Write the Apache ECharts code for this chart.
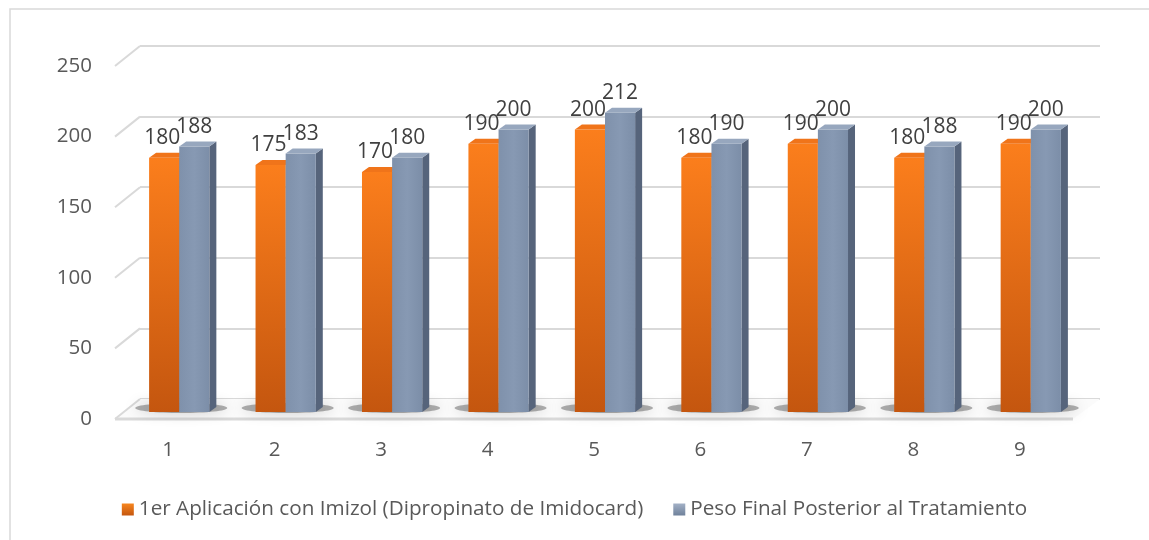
<!DOCTYPE html>
<html><head><meta charset="utf-8">
<script src="https://cdn.jsdelivr.net/npm/echarts@6/dist/echarts.min.js"></script>
<style>html,body{margin:0;padding:0;background:#fff}#c{width:1149px;height:540px}</style>
</head><body><div id="c"></div>
<script>
const categories = ['1','2','3','4','5','6','7','8','9'];
const seriesNames = ['1er Aplicación con Imizol (Dipropinato de Imidocard)', 'Peso Final Posterior al Tratamiento'];
const primeraAplicacion = [180, 175, 170, 190, 200, 180, 190, 180, 190];
const pesoFinal = [188, 183, 180, 200, 212, 190, 200, 188, 200];
const yTicks = [0, 50, 100, 150, 200, 250];

const FONT = '"Open Sans", "Noto Sans", sans-serif';
const TXT = '#595959';
const GRID = '#d9d9d9';
const DX = 25, DY = 20; // wall depth offset

const orangeFront = new echarts.graphic.LinearGradient(0,0,0,1,[{offset:0,color:'#fb7e1c'},{offset:1,color:'#c4560f'}]);
const blueFront = new echarts.graphic.LinearGradient(0,0,1,0,[{offset:0,color:'#7f91ab'},{offset:0.5,color:'#8799b3'},{offset:1,color:'#7c8ea8'}]);
const styles = [
  {front: orangeFront, side: '#a84a0d', top: '#f0741a', legend: new echarts.graphic.LinearGradient(0,0,0,1,[{offset:0,color:'#f7861f'},{offset:1,color:'#c4560f'}])},
  {front: blueFront, side: '#56647b', top: '#97a7be', legend: new echarts.graphic.LinearGradient(0,0,0,1,[{offset:0,color:'#a3b1c6'},{offset:1,color:'#6f819b'}])}
];

function barRenderer(si) {
  return function (params, api) {
    const cat = api.value(0), v = api.value(1);
    const base = api.coord([cat, 0]);
    const top = api.coord([cat, v]);
    const band = api.size([1, 0])[0];
    const bw = band * 0.283;
    const x0 = si === 0 ? base[0] - bw : base[0];
    const x1 = x0 + bw;
    const d = 7, h = 5;
    const st = styles[si];
    return {
      type: 'group',
      children: [
        {type: 'polygon', shape: {points: [[x1, top[1]], [x1 + d, top[1] - h], [x1 + d, base[1] - h], [x1, base[1]]]}, style: {fill: st.side}},
        {type: 'rect', shape: {x: x0, y: top[1], width: bw, height: base[1] - top[1]}, style: {fill: st.front}},
        {type: 'polygon', shape: {points: [[x0, top[1]], [x0 + d, top[1] - h], [x1 + d, top[1] - h], [x1, top[1]]]}, style: {fill: st.top}},
        {type: 'text', style: {text: String(v), x: (x0 + x1) / 2 - (si === 0 ? 2 : 0), y: top[1] - 9, align: 'center', verticalAlign: 'bottom', font: '21px ' + FONT, fill: '#404040'}}
      ]
    };
  };
}

const chart = echarts.init(document.getElementById('c'), null, {renderer: 'canvas'});
chart.setOption({
  animation: false,
  backgroundColor: '#fff',
  textStyle: {fontFamily: FONT},
  graphic: [{type: 'rect', shape: {x: 10, y: 9, width: 1160, height: 560}, style: {fill: 'none', stroke: GRID, lineWidth: 1.5}, silent: true}],
  legend: {
    data: seriesNames, bottom: 15, left: 'center', itemWidth: 12, itemHeight: 12, itemGap: 30,
    icon: 'rect', textStyle: {fontSize: 20.7, color: TXT, fontFamily: FONT}
  },
  grid: [
    {left: 115, width: 958, top: 66, height: 353, outerBoundsMode: 'none'},
    {left: 126, width: 958, top: 59, height: 353, outerBoundsMode: 'none'},
    {left: 140, width: 960, top: 46, height: 353, outerBoundsMode: 'none'}
  ],
  xAxis: [
    {gridIndex: 0, type: 'category', data: categories, axisLine: {show: false}, axisTick: {show: false}, axisLabel: {fontSize: 20.5, color: TXT, margin: 21}},
    {gridIndex: 1, type: 'category', data: categories, show: false},
    {gridIndex: 2, type: 'category', data: categories, show: false}
  ],
  yAxis: [
    {gridIndex: 0, type: 'value', min: 0, max: 250, interval: 50, axisLine: {show: false}, axisTick: {show: false}, splitLine: {show: false}, axisLabel: {fontSize: 20.5, color: TXT, margin: 23}},
    {gridIndex: 1, type: 'value', min: 0, max: 250, interval: 50, show: false},
    {gridIndex: 2, type: 'value', min: 0, max: 250, interval: 50, axisLine: {show: false}, axisTick: {show: false}, axisLabel: {show: false}, splitLine: {show: true, lineStyle: {color: GRID, width: 2}}}
  ],
  series: [
    {
      type: 'custom', name: 'walls', xAxisIndex: 0, yAxisIndex: 0, silent: true, z: 1,
      data: yTicks.map(v => [0, v]),
      renderItem: function (params, api) {
        const v = api.value(1);
        const p = api.coord([0, v]);
        const cs = params.coordSys;
        const x = cs.x;
        const children = [{type: 'line', shape: {x1: x, y1: p[1], x2: x + DX, y2: p[1] - DY}, style: {stroke: GRID, lineWidth: 2}}];
        if (v === 0) {
          const xr = cs.x + cs.width;
          children.unshift({type: 'polygon', shape: {points: [[x, p[1]], [x + DX, p[1] - DY], [xr + DX + 2, p[1] - DY], [xr, p[1]]]}, style: {fill: '#fbfbfb'}});
          children.push({type: 'line', shape: {x1: x, y1: p[1], x2: xr, y2: p[1]}, style: {stroke: GRID, lineWidth: 3}});
        }
        return {type: 'group', children: children};
      }
    },
    {
      type: 'custom', name: 'shadows', xAxisIndex: 1, yAxisIndex: 1, silent: true, z: 2,
      data: categories.map((c, i) => [i, 0]),
      renderItem: function (params, api) {
        const p = api.coord([api.value(0), 0]);
        return {type: 'ellipse', shape: {cx: p[0] + 2, cy: p[1] - 4, rx: 46, ry: 5}, style: {fill: 'rgba(50,50,50,0.38)', shadowBlur: 14, shadowColor: 'rgba(0,0,0,0.55)'}};
      }
    },
    {
      type: 'custom', name: seriesNames[0], xAxisIndex: 1, yAxisIndex: 1, z: 3,
      itemStyle: {color: styles[0].legend},
      data: primeraAplicacion.map((v, i) => [i, v]),
      renderItem: barRenderer(0)
    },
    {
      type: 'custom', name: seriesNames[1], xAxisIndex: 1, yAxisIndex: 1, z: 4,
      itemStyle: {color: styles[1].legend},
      data: pesoFinal.map((v, i) => [i, v]),
      renderItem: barRenderer(1)
    }
  ]
});
</script></body></html>
